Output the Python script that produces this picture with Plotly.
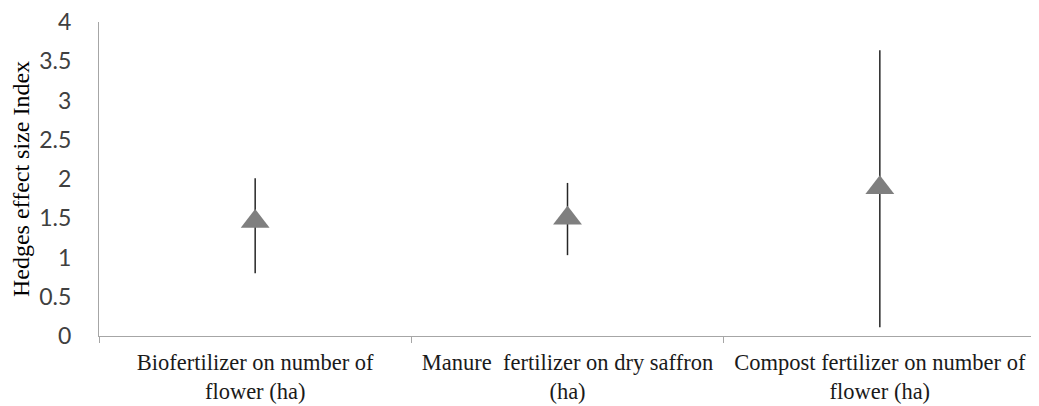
import plotly.graph_objects as go

categories = [
    "Biofertilizer on number of<br>flower (ha)",
    "Manure\u00a0\u00a0fertilizer on dry saffron<br>(ha)",
    "Compost fertilizer on number of<br>flower (ha)",
]
effect = [1.46, 1.50, 1.89]
upper = [2.01, 1.95, 3.64]
lower = [0.80, 1.03, 0.11]
y_ticks = [0, 0.5, 1, 1.5, 2, 2.5, 3, 3.5, 4]
y_ticklabels = ["0", "0.5", "1", "1.5", "2", "2.5", "3", "3.5", "4"]

err_plus = [u - e for u, e in zip(upper, effect)]
err_minus = [e - l for e, l in zip(effect, lower)]

fig = go.Figure()
# error bars (drawn first, underneath the markers)
fig.add_trace(go.Scatter(
    x=categories, y=effect, mode="markers",
    marker=dict(size=1, color="rgba(0,0,0,0)"),
    error_y=dict(type="data", symmetric=False, array=err_plus, arrayminus=err_minus,
                 color="#262626", thickness=1.5, width=0),
    showlegend=False, hoverinfo="skip",
))
fig.add_trace(go.Scatter(
    x=categories, y=effect, mode="markers",
    marker=dict(symbol="triangle-up", size=25, color="#7f7f7f"),
    showlegend=False,
))

# page body has an 8px margin, so the figure is 8px smaller each way
fig.update_layout(
    width=1031, height=398,
    margin=dict(l=91, r=3, t=14, b=70),
    paper_bgcolor="white", plot_bgcolor="white",
    font=dict(family="Liberation Serif", color="#000000"),
)
fig.update_xaxes(
    type="category", tickson="boundaries", ticks="outside", ticklen=6,
    tickcolor="#a6a6a6", showline=True, linecolor="#a6a6a6", linewidth=1.3,
    showgrid=False, automargin=False, ticklabelstandoff=6, tickangle=0,
    ticklabeloverflow="allow",
    tickfont=dict(family="Liberation Serif", size=22.5, color="#1a1a1a"),
    range=[-0.5, 2.5],
)
fig.update_yaxes(
    range=[0, 4], tickmode="array", tickvals=y_ticks, ticktext=y_ticklabels,
    showline=True, linecolor="#a6a6a6", automargin=False,
    linewidth=1.3, showgrid=False, zeroline=False, ticks="",
    ticklabelstandoff=22, ticklabeloverflow="allow",
    tickfont=dict(family="Lato", size=23, color="#404040"),
    title=dict(text="Hedges effect size Index",
               font=dict(family="Liberation Serif", size=24, color="#000000"),
               standoff=4),
)

fig.write_html("out.html")
